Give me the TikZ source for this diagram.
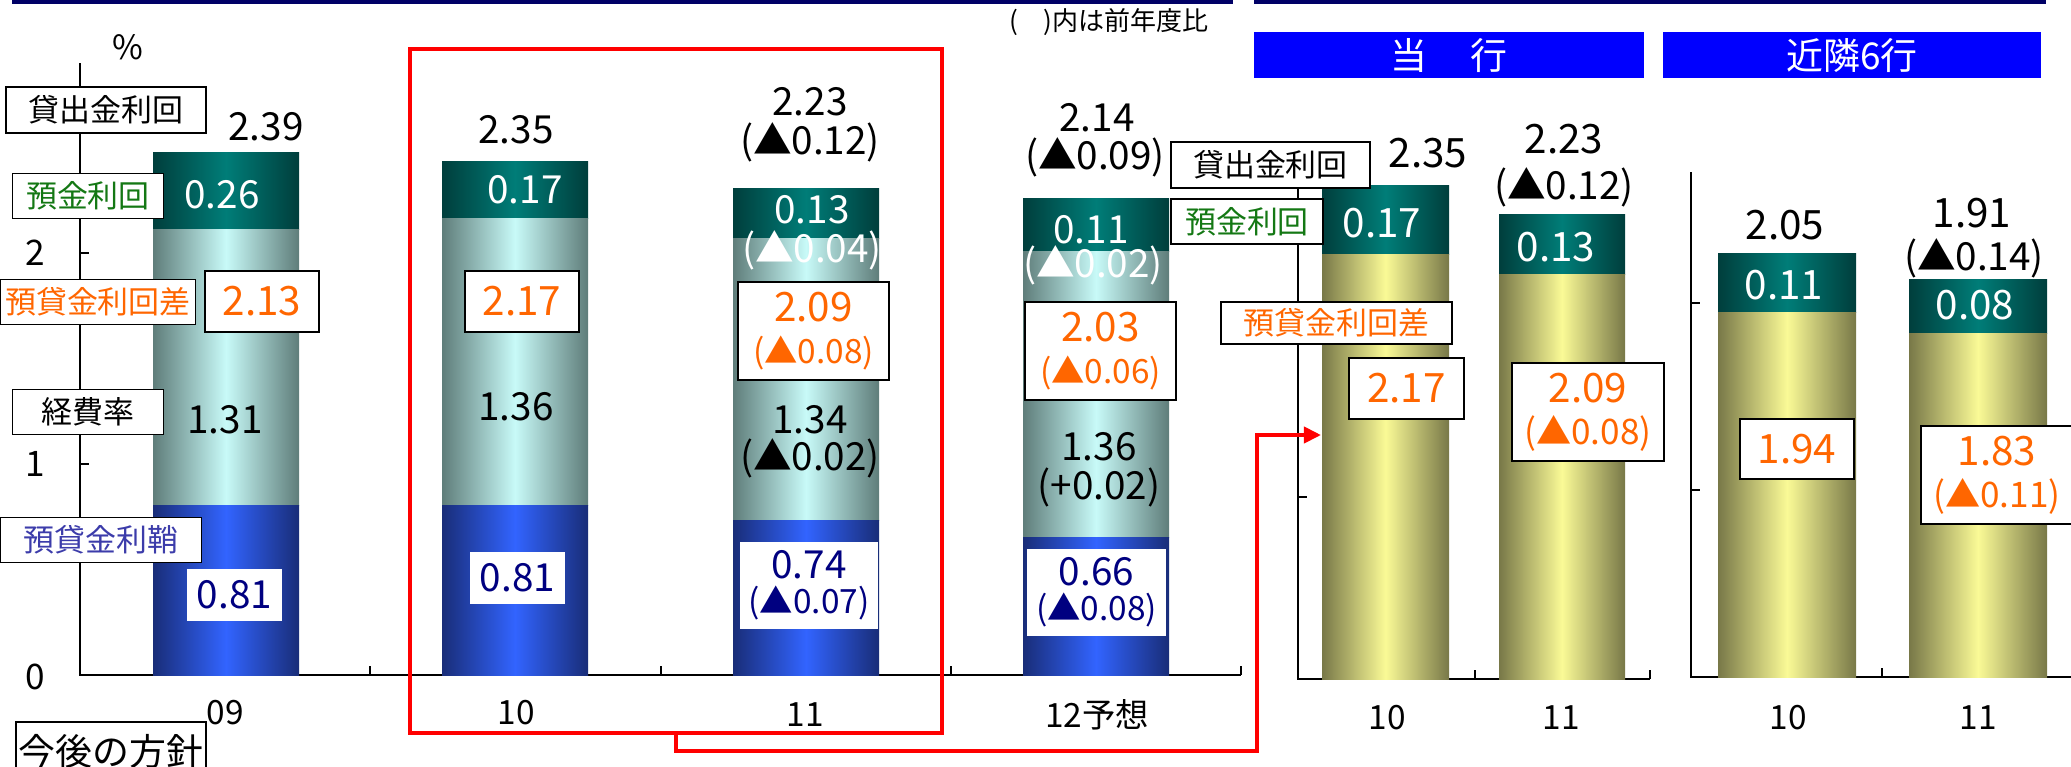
\documentclass[tikz,border=0pt]{standalone}
\usepackage{fontspec}
\setmainfont{Noto Sans CJK JP}
\usepackage{tikz}
\usetikzlibrary{arrows.meta,positioning}

\definecolor{navyline}{RGB}{0,0,102}
\definecolor{hdrblue}{RGB}{0,0,255}
\definecolor{tealdk}{RGB}{0,62,60}
\definecolor{tealmd}{RGB}{0,125,120}
\definecolor{cyanedge}{RGB}{95,125,122}
\definecolor{cyanmid}{RGB}{200,250,248}
\definecolor{blueedge}{RGB}{25,45,120}
\definecolor{bluemid}{RGB}{50,100,255}
\definecolor{oliveedge}{RGB}{120,120,72}
\definecolor{yellowmid}{RGB}{250,250,150}
\definecolor{orangetxt}{RGB}{255,102,0}
\definecolor{greentxt}{RGB}{20,120,20}
\definecolor{violettxt}{RGB}{60,60,170}
\definecolor{navytxt}{RGB}{0,0,128}

\tikzstyle{legend} = [rectangle, draw=black, fill=white, line width=0.4pt, inner sep=0pt, font=\fontsize{8.8}{10}\selectfont]
\tikzstyle{num} = [inner sep=0pt, font=\fontsize{11}{12}\selectfont]
\tikzstyle{bignum} = [inner sep=0pt, font=\fontsize{11.5}{13}\selectfont]
\tikzstyle{catlabel} = [inner sep=0pt, font=\fontsize{9.5}{11}\selectfont]
\tikzstyle{thickbox} = [rectangle, draw=black, fill=white, line width=0.8pt, text=orangetxt, inner sep=0pt, font=\fontsize{11.5}{13}\selectfont]
\tikzstyle{thinbox} = [rectangle, draw=black, fill=white, line width=0.4pt, text=orangetxt, align=center, inner sep=0pt, font=\fontsize{11.5}{13}\selectfont]
\tikzstyle{navybox} = [rectangle, fill=white, text=navytxt, align=center, inner sep=0pt, font=\fontsize{11}{11}\selectfont]
\tikzstyle{header} = [rectangle, fill=hdrblue, text=white, minimum height=0.46cm, inner sep=0pt, font=\fontsize{10.5}{12}\selectfont]
\tikzstyle{tealseg} = [left color=tealdk, right color=tealdk, middle color=tealmd]
\tikzstyle{cyanseg} = [left color=cyanedge, right color=cyanedge, middle color=cyanmid]
\tikzstyle{blueseg} = [left color=blueedge, right color=blueedge, middle color=bluemid]
\tikzstyle{yellowseg} = [left color=oliveedge, right color=oliveedge, middle color=yellowmid]
\tikzstyle{axis} = [line width=0.4pt, black]
\tikzstyle{arrow} = [red, line width=1.1pt, -{Triangle[length=0.17cm, width=0.16cm]}]

\begin{document}
\begin{tikzpicture}[x=0.01cm, y=-0.01cm]
    \useasboundingbox (0,0) rectangle (2071,766);

    % rules at the top
    \fill[navyline] (12,0) rectangle (1233,4);
    \fill[navyline] (1254,0) rectangle (2046,4);

    % axes of the left chart
    \draw[axis] (80,63) -- (80,675) -- (1241,675);
    \foreach \yy in {253,464} \draw[axis] (80,\yy) -- (89,\yy);
    \foreach \xx in {370,661,951,1241} \draw[axis] (\xx,675) -- (\xx,666);

    % axes of the two small charts
    \draw[axis] (1298,145) -- (1298,679) -- (1650,679);
    \draw[axis] (1298,497) -- (1307,497);
    \foreach \xx in {1475,1650} \draw[axis] (\xx,679) -- (\xx,670);
    \draw[axis] (1691,172) -- (1691,677) -- (2071,677);
    \foreach \yy in {303,490} \draw[axis] (1691,\yy) -- (1700,\yy);
    \draw[axis] (1882,677) -- (1882,668);

    % stacked bars: left x / top / end of teal part / start of blue part
    \foreach \xl/\yt/\yd/\yb in {153/152/229/505, 442/161/218/505, 733/188/238/520, 1023/198/251/537} {
        \path[tealseg] (\xl,\yt) rectangle (\xl+146,\yd);
        \path[cyanseg] (\xl,\yd) rectangle (\xl+146,\yb);
        \path[blueseg] (\xl,\yb) rectangle (\xl+146,675);
    }
    \foreach \xl/\w/\yt/\yd/\yb in {1322/127/185/254/679, 1499/126/214/274/679, 1718/138/253/312/677, 1909/138/279/333/677} {
        \path[tealseg] (\xl,\yt) rectangle (\xl+\w,\yd);
        \path[yellowseg] (\xl,\yd) rectangle (\xl+\w,\yb);
    }

    \node (note) [inner sep=0pt, font=\fontsize{7.4}{9}\selectfont] at (1109,22) {(\hspace{1em})内は前年度比};
    \node (own) [header, minimum width=3.9cm] at (1449,55) {当\hspace{1.15em}行};
    \node (peer) [header, minimum width=3.78cm] at (1852,55) {近隣6行};

    % axis labels
    \node (pct) [catlabel] at (128,47) {\%};
    \node (ax2) [catlabel, font=\fontsize{10}{11}\selectfont] at (35,253) {2};
    \node (ax1) [catlabel, font=\fontsize{10}{11}\selectfont] at (35,464) {1};
    \node (ax0) [catlabel, font=\fontsize{10}{11}\selectfont] at (35,677) {0};
    \node (cat09) [catlabel] at (225,713) {09};
    \node (cat10) [catlabel] at (516,713) {10};
    \node (cat11) [catlabel] at (805,715) {11};
    \node (cat12) [catlabel] at (1097,715) {12予想};

    % legend of the left chart
    \node (lend) [legend, minimum width=2cm, minimum height=0.46cm] at (106,110) {貸出金利回};
    \node (dep) [legend, text=greentxt, minimum width=1.51cm, minimum height=0.45cm] at (88,196) {預金利回};
    \node (spread) [legend, text=orangetxt, minimum width=1.95cm, minimum height=0.45cm] at (98,302) {預貸金利回差};
    \node (cost) [legend, minimum width=1.51cm, minimum height=0.45cm] at (88,412) {経費率};
    \node (margin) [legend, text=violettxt, minimum width=2.01cm, minimum height=0.45cm] at (101,540) {預貸金利鞘};
    \node (plan) [rectangle, draw=black, line width=0.6pt, minimum width=1.9cm, minimum height=0.58cm, inner sep=0pt, font=\fontsize{10.5}{12}\selectfont] at (111,751) {今後の方針};

    % totals
    \node (tot09) [num] at (266,127) {2.39};
    \node (tot10) [num] at (516,130) {2.35};
    \node (tot11) [num] at (810,102) {2.23};
    \node (tot11d) [num] at (810,142) {(▲0.12)};
    \node (tot12) [num] at (1097,118) {2.14};
    \node (tot12d) [num] at (1095,157) {(▲0.09)};

    % deposit rate
    \node (dep09) [num, text=white] at (222,195) {0.26};
    \node (dep10) [num, text=white] at (525,190) {0.17};
    \node (dep11) [num, text=white] at (812,210) {0.13};
    \node (dep11d) [num, text=white] at (812,250) {(▲0.04)};
    \node (dep12) [num, text=white] at (1091,230) {0.11};
    \node (dep12d) [num, text=white] at (1093,265) {(▲0.02)};

    % spread
    \node (spr09) [thickbox, minimum width=1.14cm, minimum height=0.61cm] at (262,301.5) {2.13};
    \node (spr10) [thickbox, minimum width=1.14cm, minimum height=0.61cm] at (522,301.5) {2.17};
    \node (spr11) [thinbox, minimum width=1.51cm, minimum height=0.98cm] at (813.5,331) {2.09\\[-1pt]{\fontsize{9.5}{11}\selectfont(▲0.08)}};
    \node (spr12) [thinbox, minimum width=1.51cm, minimum height=0.98cm] at (1100.5,351) {2.03\\[-1pt]{\fontsize{9.5}{11}\selectfont(▲0.06)}};

    % expense ratio
    \node (cost09) [num] at (225,420) {1.31};
    \node (cost10) [num] at (516,407) {1.36};
    \node (cost11) [num] at (810,420) {1.34};
    \node (cost11d) [num] at (810,458) {(▲0.02)};
    \node (cost12) [num] at (1099,447) {1.36};
    \node (cost12d) [num] at (1099,487) {(+0.02)};

    % margin
    \node (mar09) [navybox, minimum width=0.95cm, minimum height=0.52cm] at (234.5,595) {0.81};
    \node (mar10) [navybox, minimum width=0.95cm, minimum height=0.52cm] at (517.5,578) {0.81};
    \node (mar11) [navybox, minimum width=1.38cm, minimum height=0.87cm] at (809,585.5) {0.74\\[-1pt]{\fontsize{9.5}{11}\selectfont(▲0.07)}};
    \node (mar12) [navybox, minimum width=1.39cm, minimum height=0.87cm] at (1096.5,592.5) {0.66\\[-1pt]{\fontsize{9.5}{11}\selectfont(▲0.08)}};

    % own bank
    \node (lend2) [legend, minimum width=1.99cm, minimum height=0.46cm] at (1270.5,165) {貸出金利回};
    \node (dep2) [legend, text=greentxt, minimum width=1.52cm, minimum height=0.45cm] at (1247,221.5) {預金利回};
    \node (spread2) [legend, text=orangetxt, minimum width=2.31cm, minimum height=0.42cm] at (1336.5,323) {預貸金利回差};
    \node (rtot10) [bignum] at (1428,153) {2.35};
    \node (rtot11) [bignum] at (1564,139) {2.23};
    \node (rtot11d) [num] at (1564,187) {(▲0.12)};
    \node (rdep10) [bignum, text=white] at (1382,223) {0.17};
    \node (rdep11) [bignum, text=white] at (1556,247) {0.13};
    \node (rspr10) [thickbox, minimum width=1.15cm, minimum height=0.61cm] at (1406.5,388.5) {2.17};
    \node (rspr11) [thinbox, minimum width=1.52cm, minimum height=0.98cm] at (1588,412) {2.09\\[-1pt]{\fontsize{10}{11}\selectfont(▲0.08)}};
    \node (rcat10) [catlabel] at (1387,718) {10};
    \node (rcat11) [catlabel] at (1561,718) {11};

    % six neighbouring banks
    \node (ntot10) [bignum] at (1785,225) {2.05};
    \node (ntot11) [bignum] at (1972,213) {1.91};
    \node (ntot11d) [num] at (1974,258) {(▲0.14)};
    \node (ndep10) [bignum, text=white] at (1784,285) {0.11};
    \node (ndep11) [bignum, text=white] at (1975,305) {0.08};
    \node (nspr10) [thickbox, minimum width=1.14cm, minimum height=0.60cm] at (1797,449) {1.94};
    \node (nspr11) [thinbox, minimum width=1.52cm, minimum height=0.98cm] at (1997,475) {1.83\\[-1pt]{\fontsize{10}{11}\selectfont(▲0.11)}};
    \node (ncat10) [catlabel] at (1788,718) {10};
    \node (ncat11) [catlabel] at (1978,718) {11};

    % red frame and link to the own bank chart
    \node (focus) [draw=red, line width=1.1pt, minimum width=5.32cm, minimum height=6.84cm] at (676,391) {};
    \coordinate (bend) at (1257,751);
    \coordinate (target) at (1321,435);
    \draw[arrow] (focus.south) |- (bend) |- (target);

\end{tikzpicture}
\end{document}
